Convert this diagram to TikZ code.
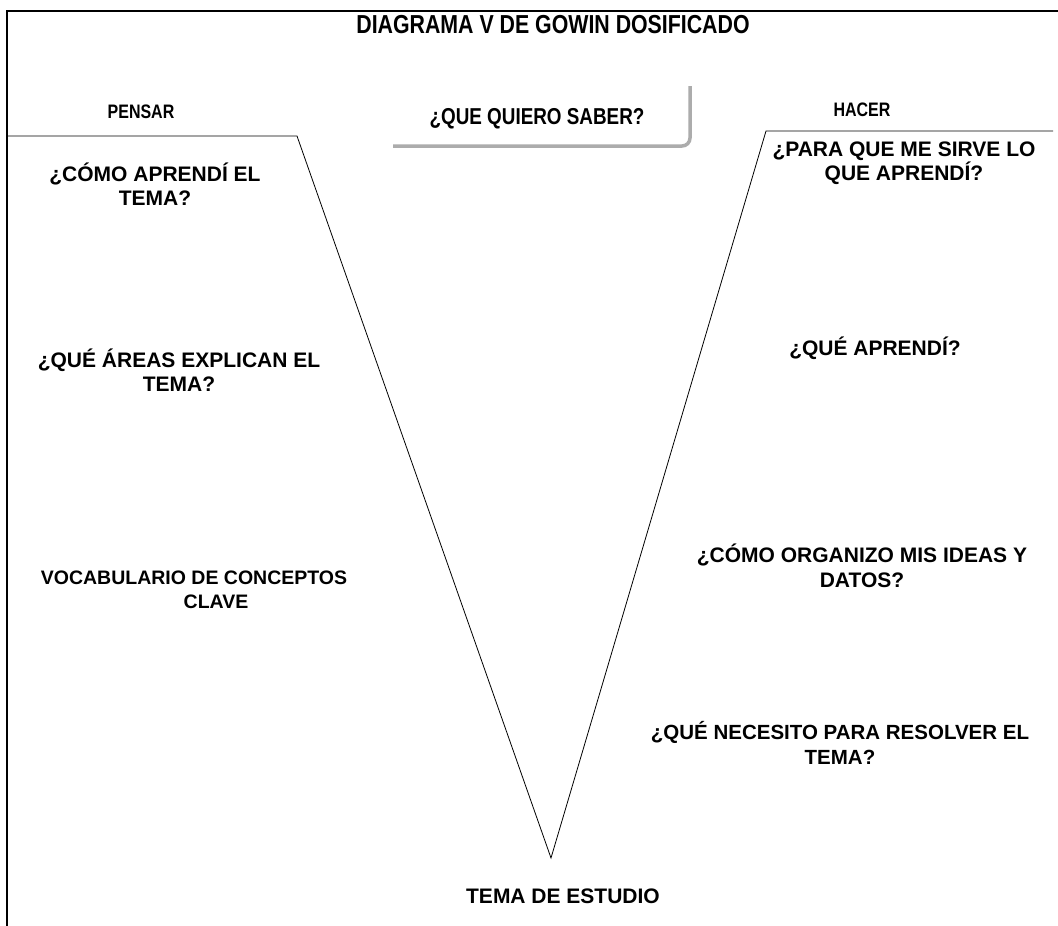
\documentclass[tikz,border=0pt]{standalone}
\usepackage{fontspec}
\setmainfont{Liberation Sans}
\newfontfamily\narrowfont[FakeStretch=0.82]{Liberation Sans}
\begin{document}
\begin{tikzpicture}[x=1pt,y=-1pt,
  frame/.style={line width=1.6pt,black},
  vline/.style={line width=0.8pt,black},
  lbl/.style={font=\fontsize{21}{24.5}\selectfont\bfseries,align=center,inner sep=0pt},
  nlbl/.style={font=\fontsize{23}{27}\selectfont\narrowfont\bfseries,inner sep=0pt},
  slbl/.style={font=\fontsize{19.5}{23}\selectfont\narrowfont\bfseries,inner sep=0pt},
  shadow/.style={line width=3.5pt,gray!65,rounded corners=8pt}]
\useasboundingbox (0,0) rectangle (1058,926);
\fill[white] (0,0) rectangle (1058,926);
% frame
\draw[frame] (7,926) -- (7,11) -- (1058,11);
% V
\coordinate (lt) at (7,136);
\coordinate (lc) at (297,136);
\coordinate (vb) at (551,858);
\coordinate (rc) at (766,131);
\coordinate (rt) at (1053,131);
\draw[vline] (lt) -- (lc) -- (vb) -- (rc) -- (rt);
% question box shadow
\coordinate (bl) at (393,146);
\coordinate (br) at (690,146);
\coordinate (tr) at (690,86);
\draw[shadow] (bl) -- (br) -- (tr);
% texts
\node[nlbl,font=\fontsize{26}{30}\selectfont\narrowfont\bfseries] (title) at (553,25) {DIAGRAMA V DE GOWIN DOSIFICADO};
\node[slbl] (pensar) at (141,112) {PENSAR};
\node[slbl] (hacer) at (862,110) {HACER};
\node[nlbl] (quiero) at (537,119) {¿QUE QUIERO SABER?};
\node[lbl] (como) at (155,184) {¿CÓMO APRENDÍ EL\\TEMA?};
\node[lbl] (areas) at (179,370) {¿QUÉ ÁREAS EXPLICAN EL\\TEMA?};
\node[lbl,font=\fontsize{19.5}{24.5}\selectfont\bfseries] (vocab) at (194,590) {VOCABULARIO DE CONCEPTOS\\\hspace*{44pt}CLAVE};
\node[lbl] (para) at (904,163) {¿PARA QUE ME SIRVE LO\\QUE APRENDÍ?};
\node[lbl] (aprendi) at (875,348) {¿QUÉ APRENDÍ?};
\node[lbl] (organizo) at (862,566) {¿CÓMO ORGANIZO MIS IDEAS Y\\DATOS?};
\node[lbl,font=\fontsize{20.5}{24.5}\selectfont\bfseries] (necesito) at (840,743) {¿QUÉ NECESITO PARA RESOLVER EL\\TEMA?};
\node[lbl] (tema) at (563,896) {TEMA DE ESTUDIO};
\end{tikzpicture}
\end{document}
